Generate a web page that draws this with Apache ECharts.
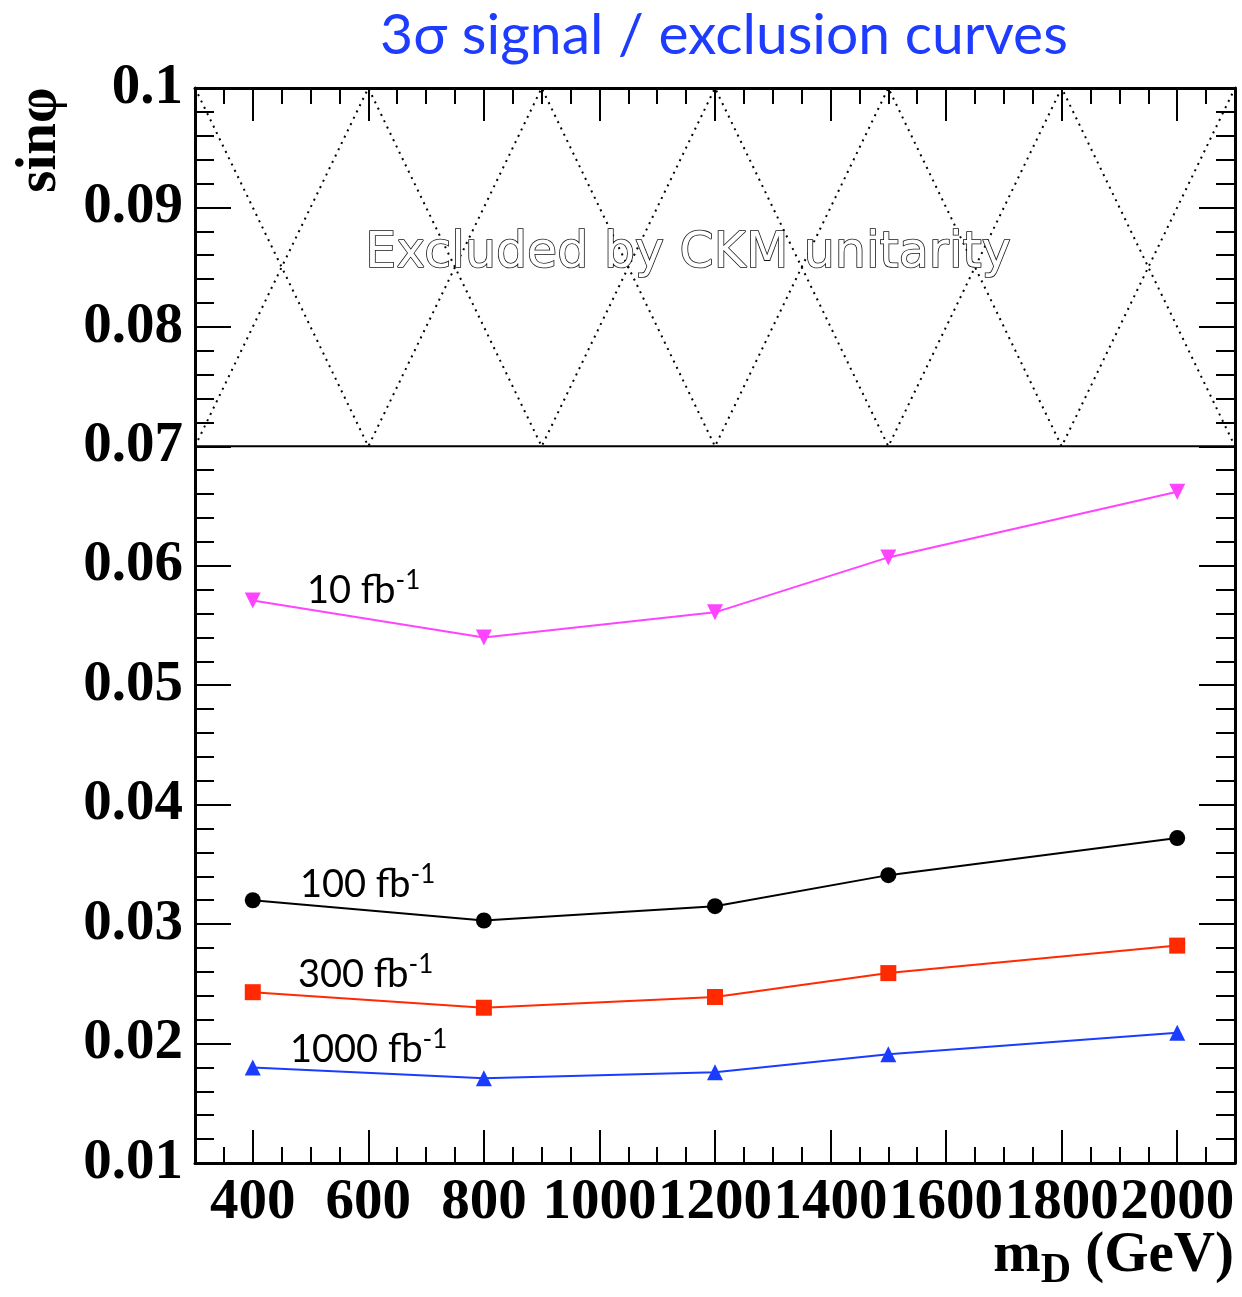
<!DOCTYPE html>
<html>
<head>
<meta charset="utf-8">
<title>3σ signal / exclusion curves</title>
<script src="https://cdn.jsdelivr.net/npm/echarts@6/dist/echarts.min.js"></script>
<style>
    html, body { margin: 0; padding: 0; background: #fff; }
    #chart { width: 1242px; height: 1297px; }
</style>
</head>
<body>
<div id="chart"></div>
<script>
// 数据
const massPoints = [400, 800, 1200, 1500, 2000];
const lumi10 = [0.0571, 0.0540, 0.0561, 0.0607, 0.0662];
const lumi100 = [0.0320, 0.0303, 0.0315, 0.0341, 0.0372];
const lumi300 = [0.0243, 0.0230, 0.0239, 0.0259, 0.0282];
const lumi1000 = [0.0180, 0.0171, 0.0176, 0.0191, 0.0209];

const xMajorTicks = [400, 600, 800, 1000, 1200, 1400, 1600, 1800, 2000];

// CKM 排除区域
const ckmLimit = 0.07;
const hatchX = [300, 600, 900, 1200, 1500, 1800, 2100];
const hatchDown = [0.1, 0.07, 0.1, 0.07, 0.1, 0.07, 0.1];
const hatchUp = [0.07, 0.1, 0.07, 0.1, 0.07, 0.1, 0.07];

const X_MIN = 300, X_MAX = 2100;
const serif = '"Liberation Serif", "DejaVu Serif", serif';
const sans = 'Lato, "Open Sans", sans-serif';

const zip = (xs, ys) => xs.map((x, i) => [x, ys[i]]);

const frameLine = { show: true, lineStyle: { color: '#000', width: 3 } };

// 主刻度轴（customValues）+ 次刻度轴（interval 50）
function xAxisPair(position, withLabels) {
    return [
        {
            type: 'value', position: position, min: X_MIN, max: X_MAX,
            axisLine: frameLine,
            splitLine: { show: false },
            axisTick: {
                show: true, inside: true, length: 33, customValues: xMajorTicks,
                lineStyle: { color: '#000', width: 2 }
            },
            axisLabel: withLabels ? {
                show: true, customValues: xMajorTicks, margin: 12,
                fontFamily: serif, fontWeight: 'bold', fontSize: 57, color: '#000',
                hideOverlap: false,
                formatter: v => String(v)
            } : { show: false }
        },
        {
            type: 'value', position: position, min: X_MIN, max: X_MAX, interval: 50,
            axisLine: { show: false },
            splitLine: { show: false },
            axisTick: { show: true, inside: true, length: 16, lineStyle: { color: '#000', width: 2 } },
            axisLabel: { show: false }
        }
    ];
}

function yAxisDef(position, withLabels) {
    return {
        type: 'value', position: position, min: 0.01, max: 0.1, interval: 0.01,
        axisLine: frameLine,
        splitLine: { show: false },
        axisTick: { show: true, inside: true, length: 36, lineStyle: { color: '#000', width: 2 } },
        minorTick: { show: true, splitNumber: 5, length: 19, lineStyle: { color: '#000', width: 2 } },
        axisLabel: withLabels ? {
            show: true, margin: 12,
            fontFamily: serif, fontWeight: 'bold', fontSize: 57, color: '#000',
            formatter: v => String(+v.toFixed(3))
        } : { show: false }
    };
}

function curve(name, values, color, symbol, rotate) {
    return {
        name: name, type: 'line', xAxisIndex: 0, yAxisIndex: 0,
        data: zip(massPoints, values),
        symbol: symbol, symbolSize: 16, symbolRotate: rotate || 0,
        lineStyle: { color: color, width: 2 },
        itemStyle: { color: color },
        z: 5
    };
}

function hatch(values) {
    return {
        type: 'line', xAxisIndex: 0, yAxisIndex: 0,
        data: zip(hatchX, values),
        symbol: 'none',
        lineStyle: { color: '#000', width: 2, type: [2, 5] },
        z: 2
    };
}

function lumiLabel(text, x, y) {
    return {
        type: 'text', left: x, top: y, z: 10,
        style: {
            text: '{m|' + text + ' fb}{s|-1}',
            rich: {
                m: { fontFamily: sans, fontSize: 38, fill: '#000' },
                s: { fontFamily: sans, fontSize: 26, fill: '#000', padding: [0, 0, 20, 0] }
            }
        }
    };
}

const chart = echarts.init(document.getElementById('chart'));

const option = {
    animation: false,
    backgroundColor: '#fff',
    grid: { left: 195, right: 7, top: 88, bottom: 134, containLabel: false },
    xAxis: [].concat(xAxisPair('bottom', true), xAxisPair('top', false)),
    yAxis: [yAxisDef('left', true), yAxisDef('right', false)],
    series: [
        hatch(hatchDown),
        hatch(hatchUp),
        {
            type: 'line', xAxisIndex: 0, yAxisIndex: 0,
            data: [[X_MIN, ckmLimit], [X_MAX, ckmLimit]],
            symbol: 'none',
            lineStyle: { color: '#000', width: 2 },
            z: 3
        },
        curve('10 fb-1', lumi10, '#ff44ff', 'triangle', 180),
        curve('100 fb-1', lumi100, '#000000', 'circle'),
        curve('300 fb-1', lumi300, '#ff2a00', 'rect'),
        curve('1000 fb-1', lumi1000, '#1a3cff', 'triangle')
    ],
    graphic: [
        {
            type: 'text', x: 724, y: 36,
            style: {
                text: '3σ signal / exclusion curves',
                fontFamily: sans, fontSize: 57, fill: '#1d3cff',
                align: 'center', verticalAlign: 'middle'
            }
        },
        {
            type: 'text', x: 40, y: 140, rotation: Math.PI / 2,
            style: {
                text: 'sinφ', fontFamily: serif, fontWeight: 'bold', fontSize: 57,
                fill: '#000', align: 'center', verticalAlign: 'middle'
            }
        },
        {
            type: 'text', right: 8, top: 1228,
            style: {
                text: '{b|m}{d|D}{b| (GeV)}',
                rich: {
                    b: { fontFamily: serif, fontWeight: 'bold', fontSize: 57, fill: '#000' },
                    d: { fontFamily: serif, fontWeight: 'bold', fontSize: 42, fill: '#000', padding: [30, 0, 0, 0] }
                }
            }
        },
        {
            type: 'text', x: 688, y: 254, z: 8,
            style: {
                text: 'Excluded by CKM unitarity',
                fontFamily: '"DejaVu Sans", sans-serif', fontSize: 49,
                fill: '#fff', stroke: '#111', lineWidth: 1.6,
                align: 'center', verticalAlign: 'middle'
            }
        },
        lumiLabel('10', 307, 568),
        lumiLabel('100', 300, 862),
        lumiLabel('300', 298, 952),
        lumiLabel('1000', 290, 1027)
    ]
};

chart.setOption(option);
window.addEventListener('resize', () => chart.resize());
</script>
</body>
</html>
